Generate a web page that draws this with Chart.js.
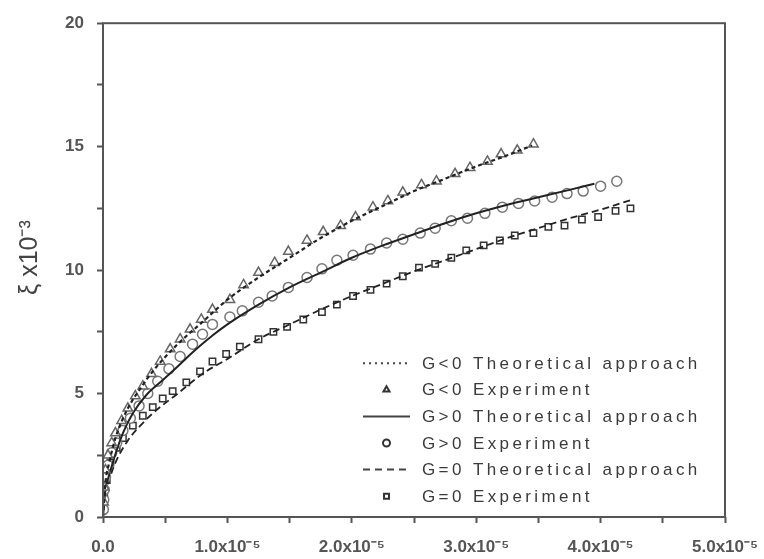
<!DOCTYPE html>
<html lang="en">
<head>
  <meta charset="UTF-8" />
  <title>Growth of xi</title>
  <script src="https://cdn.jsdelivr.net/npm/chart.js"></script>
  <style>
    body {
      margin: 0;
      background: #fff;
    }
    #wrap {
      width: 764px;
      height: 559px;
    }
  </style>
</head>
<body>
  <div id="wrap">
    <canvas id="xiChart" width="764" height="559"></canvas>
  </div>

  <script>
    // x in units of 1e-5, xi in units of 1e-3
    const xTickLabels = ['0.0', '1.0x10\u207B\u2075', '2.0x10\u207B\u2075', '3.0x10\u207B\u2075', '4.0x10\u207B\u2075', '5.0x10\u207B\u2075'];
    const yTickLabels = ['0', '5', '10', '15', '20'];

    const gNegTheory = [[0,0],[0.02,1.4],[0.05,2.2],[0.1,3.2],[0.2,4.4],[0.3,5.2],[0.4,5.9],[0.6,7.0],[0.8,7.9],[1.0,8.8],[1.25,9.7],[1.5,10.5],[1.75,11.3],[2.0,12.0],[2.25,12.6],[2.5,13.2],[2.75,13.7],[3.0,14.2],[3.25,14.65],[3.45,15.05]];
    const gNegExp = [[0.005,0.6],[0.01,1.2],[0.02,1.9],[0.04,2.5],[0.07,3.0],[0.1,3.4],[0.15,3.9],[0.2,4.4],[0.26,4.9],[0.32,5.3],[0.39,5.8],[0.46,6.3],[0.54,6.8],[0.62,7.2],[0.7,7.6],[0.79,8.0],[0.88,8.4],[1.02,8.8],[1.13,9.4],[1.25,9.9],[1.38,10.3],[1.49,10.75],[1.64,11.2],[1.77,11.55],[1.91,11.8],[2.03,12.15],[2.17,12.55],[2.29,12.8],[2.41,13.15],[2.56,13.45],[2.68,13.6],[2.83,13.9],[2.95,14.15],[3.09,14.4],[3.2,14.7],[3.33,14.85],[3.46,15.1]];

    const gPosTheory = [[0,0],[0.02,1.1],[0.05,1.7],[0.1,2.55],[0.16,3.4],[0.24,4.2],[0.35,4.95],[0.47,5.5],[0.6,6.1],[0.75,6.8],[0.88,7.35],[1.0,7.8],[1.25,8.6],[1.5,9.3],[1.75,9.9],[2.0,10.5],[2.25,11.0],[2.5,11.45],[2.75,11.9],[3.0,12.3],[3.25,12.65],[3.5,12.95],[3.75,13.25],[3.95,13.5]];
    const gPosExp = [[0.003,0.3],[0.006,0.7],[0.01,1.1],[0.02,1.6],[0.04,2.1],[0.07,2.6],[0.11,3.0],[0.16,3.5],[0.22,4.0],[0.29,4.5],[0.36,5.0],[0.44,5.5],[0.53,6.0],[0.62,6.5],[0.72,7.0],[0.8,7.4],[0.88,7.8],[1.02,8.1],[1.12,8.35],[1.25,8.7],[1.36,8.95],[1.49,9.3],[1.64,9.7],[1.76,10.05],[1.88,10.4],[2.01,10.6],[2.15,10.85],[2.28,11.1],[2.41,11.25],[2.55,11.5],[2.67,11.7],[2.8,12.0],[2.93,12.1],[3.07,12.3],[3.21,12.55],[3.34,12.7],[3.47,12.8],[3.61,12.95],[3.73,13.1],[3.86,13.2],[4.0,13.4],[4.13,13.6]];

    const gZeroTheory = [[0,0],[0.02,0.9],[0.05,1.5],[0.1,2.2],[0.2,3.1],[0.3,3.7],[0.4,4.2],[0.6,5.0],[0.8,5.8],[1.0,6.4],[1.25,7.2],[1.5,7.8],[1.75,8.4],[2.0,8.95],[2.25,9.45],[2.5,9.95],[2.75,10.4],[3.0,10.85],[3.25,11.3],[3.5,11.7],[3.75,12.1],[4.0,12.45],[4.25,12.85]];
    const gZeroExp = [[0.01,0.8],[0.03,1.5],[0.06,2.2],[0.11,2.8],[0.16,3.2],[0.24,3.7],[0.32,4.1],[0.4,4.45],[0.48,4.8],[0.56,5.1],[0.67,5.45],[0.78,5.9],[0.88,6.3],[0.99,6.6],[1.1,6.9],[1.25,7.2],[1.37,7.5],[1.48,7.7],[1.61,8.0],[1.76,8.3],[1.88,8.6],[2.01,8.95],[2.15,9.2],[2.28,9.45],[2.41,9.75],[2.54,10.1],[2.67,10.25],[2.8,10.5],[2.92,10.8],[3.06,11.0],[3.19,11.2],[3.31,11.4],[3.46,11.5],[3.58,11.75],[3.71,11.8],[3.85,12.05],[3.98,12.15],[4.12,12.4],[4.24,12.5]];

    const toPoints = arr => arr.map(p => ({ x: p[0], y: p[1] }));

    function theoryLine(label, data, dash, width) {
      return {
        label: label,
        data: toPoints(data),
        showLine: true,
        borderColor: '#222',
        borderWidth: width,
        borderDash: dash,
        pointRadius: 0,
        cubicInterpolationMode: 'monotone',
        fill: false
      };
    }

    function experiment(label, data, style, color, radius) {
      return {
        label: label,
        data: toPoints(data),
        showLine: false,
        pointStyle: style,
        pointRadius: radius,
        pointBorderWidth: 1.5,
        pointBorderColor: color,
        pointBackgroundColor: '#fff'
      };
    }

    // frame around the plot area
    const frameBox = {
      id: 'frameBox',
      afterDraw(chart) {
        const a = chart.chartArea;
        const ctx = chart.ctx;
        ctx.save();
        ctx.strokeStyle = '#555';
        ctx.lineWidth = 2;
        ctx.strokeRect(a.left, a.top, a.right - a.left, a.bottom - a.top);
        ctx.restore();
      }
    };

    // legend drawn inside the plot, lower right
    const insideLegend = {
      id: 'insideLegend',
      afterDraw(chart, args, opts) {
        const ctx = chart.ctx;
        const a = chart.chartArea;
        const x0 = a.left + opts.left;
        const y0 = a.top + opts.top;
        ctx.save();
        ctx.font = opts.font;
        ctx.letterSpacing = opts.letterSpacing;
        ctx.textBaseline = 'middle';
        chart.data.datasets.forEach((ds, i) => {
          const y = y0 + i * opts.rowHeight;
          if (ds.showLine) {
            ctx.beginPath();
            ctx.setLineDash(ds.legendDash || []);
            ctx.strokeStyle = '#444';
            ctx.lineWidth = 2;
            ctx.moveTo(x0, y);
            ctx.lineTo(x0 + opts.sampleWidth, y);
            ctx.stroke();
            ctx.setLineDash([]);
          } else {
            ctx.fillStyle = '#fff';
            ctx.strokeStyle = '#333';
            ctx.lineWidth = 2;
            Chart.helpers.drawPoint(ctx, { pointStyle: ds.pointStyle, radius: 3.5, borderWidth: 2, rotation: 0 },
              x0 + opts.sampleWidth / 2, y);
          }
          ctx.fillStyle = opts.color;
          ctx.fillText(ds.label, x0 + opts.textOffset, y + 1);
        });
        ctx.restore();
      }
    };

    const datasets = [
      Object.assign(theoryLine('G<0 Theoretical approach', gNegTheory, [4, 3], 2.2), { legendDash: [2, 4] }),
      experiment('G<0 Experiment', gNegExp, 'triangle', '#666', 5.5),
      Object.assign(theoryLine('G>0 Theoretical approach', gPosTheory, [], 2), { legendDash: [] }),
      experiment('G>0 Experiment', gPosExp, 'circle', '#777', 5),
      Object.assign(theoryLine('G=0 Theoretical approach', gZeroTheory, [7, 4], 1.8), { legendDash: [7, 5] }),
      experiment('G=0 Experiment', gZeroExp, 'rect', '#333', 4.5)
    ];

    const tickFont = { family: 'Liberation Sans, Arial, sans-serif', size: 17, weight: 'bold' };

    new Chart(document.getElementById('xiChart'), {
      type: 'scatter',
      data: { datasets: datasets },
      options: {
        responsive: false,
        animation: false,
        layout: { padding: { top: 17, right: 39, left: 0, bottom: 0 } },
        plugins: {
          legend: { display: false },
          tooltip: { enabled: false },
          insideLegend: {
            left: 260,
            top: 340,
            rowHeight: 26.6,
            sampleWidth: 47,
            textOffset: 59,
            font: '17px "Liberation Sans", Arial, sans-serif',
            letterSpacing: '3.4px',
            color: '#3a3a3a'
          }
        },
        scales: {
          x: {
            type: 'linear',
            min: 0,
            max: 5,
            border: { display: false },
            grid: { drawOnChartArea: false, drawTicks: true, tickLength: 6, tickColor: '#555', tickWidth: 2 },
            ticks: {
              stepSize: 0.5,
              padding: 14,
              maxRotation: 0,
              autoSkip: false,
              color: '#555',
              font: tickFont,
              callback: v => Number.isInteger(v) ? xTickLabels[v] : ''
            },
            // let the last label run past the canvas edge instead of shrinking the plot
            afterFit: scale => { scale.height = 42; scale.paddingRight = 0; scale.paddingLeft = 0; }
          },
          y: {
            type: 'linear',
            min: 0,
            max: 20,
            border: { display: false },
            grid: { drawOnChartArea: false, drawTicks: true, tickLength: 6, tickColor: '#555', tickWidth: 2 },
            ticks: {
              stepSize: 2.5,
              padding: 13,
              autoSkip: false,
              color: '#555',
              font: tickFont,
              callback: v => v % 5 === 0 ? yTickLabels[v / 5] : ''
            },
            title: {
              display: true,
              text: '\u2003\u03BE x10\u207B\u00B3',
              color: '#444',
              font: { family: 'Liberation Sans, Arial, sans-serif', size: 25 },
              padding: { top: 15, bottom: 4 }
            },
            afterFit: scale => { scale.width = 103; }
          }
        }
      },
      plugins: [frameBox, insideLegend]
    });
  </script>
</body>
</html>
